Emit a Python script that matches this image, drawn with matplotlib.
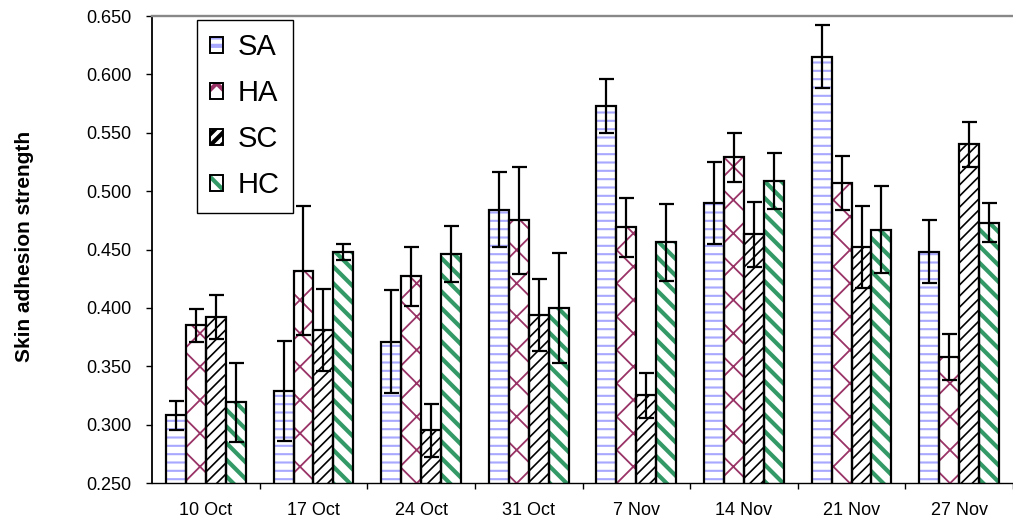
import numpy as np
import matplotlib
matplotlib.use("Agg")
import matplotlib.pyplot as plt
from matplotlib.patches import Patch
from matplotlib.ticker import FormatStrFormatter

plt.rcParams['font.family'] = ['Liberation Sans', 'DejaVu Sans']

# weekly sampling dates
dates = ['10 Oct', '17 Oct', '24 Oct', '31 Oct', '7 Nov', '14 Nov', '21 Nov', '27 Nov']
groups = ['SA', 'HA', 'SC', 'HC']

# mean skin adhesion strength per treatment
sa = [0.308, 0.329, 0.371, 0.484, 0.573, 0.490, 0.615, 0.448]
ha = [0.385, 0.432, 0.427, 0.475, 0.469, 0.529, 0.507, 0.358]
sc = [0.392, 0.381, 0.295, 0.394, 0.325, 0.463, 0.452, 0.540]
hc = [0.319, 0.448, 0.446, 0.400, 0.456, 0.509, 0.467, 0.473]

# standard errors
sa_err = [0.0125, 0.043, 0.044, 0.032, 0.023, 0.035, 0.027, 0.027]
ha_err = [0.014, 0.055, 0.025, 0.046, 0.025, 0.021, 0.023, 0.020]
sc_err = [0.019, 0.035, 0.023, 0.031, 0.019, 0.028, 0.035, 0.019]
hc_err = [0.034, 0.007, 0.024, 0.047, 0.033, 0.024, 0.037, 0.017]

values = [sa, ha, sc, hc]
errors = [sa_err, ha_err, sc_err, hc_err]
hatches = ['--', 'x', '///', '\\\\']
hatch_colors = ['#a8a8ff', '#993366', '#000000', '#339966']
hatch_widths = [1.5, 1.3, 1.2, 3.0]

fig = plt.figure(figsize=(10.13, 5.22), dpi=100)
ax = fig.add_axes([152 / 1013, 1 - 483 / 522, 1 - 152 / 1013, (483 - 16) / 522])

x = np.arange(len(dates))
width = 0.185
handles = []
for i, (vals, errs) in enumerate(zip(values, errors)):
    pos = x + (i - 1.5) * width
    plt.rcParams['hatch.linewidth'] = hatch_widths[i]
    hb = ax.bar(pos, vals, width, bottom=0, color='white', edgecolor=hatch_colors[i],
                hatch=hatches[i], linewidth=0, zorder=2)
    for p in hb:
        try:
            p.set_hatch_linewidth(hatch_widths[i])
        except AttributeError:
            pass
    ax.bar(pos, vals, width, fill=False, edgecolor='black', linewidth=1.6, zorder=3)
    ax.errorbar(pos, vals, yerr=errs, fmt='none', ecolor='black', elinewidth=1.6,
                capsize=5.4, capthick=1.6, zorder=4)
    hp = Patch(facecolor='white', edgecolor=hatch_colors[i], hatch=hatches[i], linewidth=0)
    try:
        hp.set_hatch_linewidth(hatch_widths[i])
    except AttributeError:
        pass
    op = Patch(fill=False, edgecolor='black', linewidth=1.4)
    handles.append((hp, op))

ax.set_ylim(0.25, 0.65)
ax.set_xlim(-0.5, -0.5 + 861 / 108.9)
ax.set_yticks(np.arange(0.25, 0.651, 0.05))
ax.yaxis.set_major_formatter(FormatStrFormatter('%.3f'))
ax.set_xticks(x)
ax.set_xticklabels(dates)
ax.set_xticks(np.arange(0.5, 8, 1), minor=True)
ax.tick_params(axis='x', which='major', length=0, pad=14, labelsize=13)
ax.tick_params(axis='x', which='minor', length=4, width=1, direction='out')
ax.tick_params(axis='y', length=4, width=1, pad=11, labelsize=13)

ax.spines['right'].set_visible(False)
ax.spines['top'].set_color('#888888')
ax.spines['top'].set_linewidth(1.7)
ax.spines['left'].set_linewidth(1.3)
ax.spines['bottom'].set_linewidth(1.0)

fig.text(24 / 1013, 1 - 246 / 522, 'Skin adhesion strength', rotation=90,
         ha='center', va='center', fontsize=15, fontweight='bold')

leg = ax.legend(handles, groups, loc='upper left', bbox_to_anchor=(197 / 1013, 1 - 20 / 522),
                bbox_transform=fig.transFigure, borderaxespad=0, fontsize=21,
                handlelength=0.45, handleheight=0.45, handletextpad=0.5,
                labelspacing=0.62, borderpad=0.45, fancybox=False, framealpha=1)
leg.get_frame().set_edgecolor('black')
leg.get_frame().set_linewidth(1.0)

fig.savefig('out.png', dpi=100)
